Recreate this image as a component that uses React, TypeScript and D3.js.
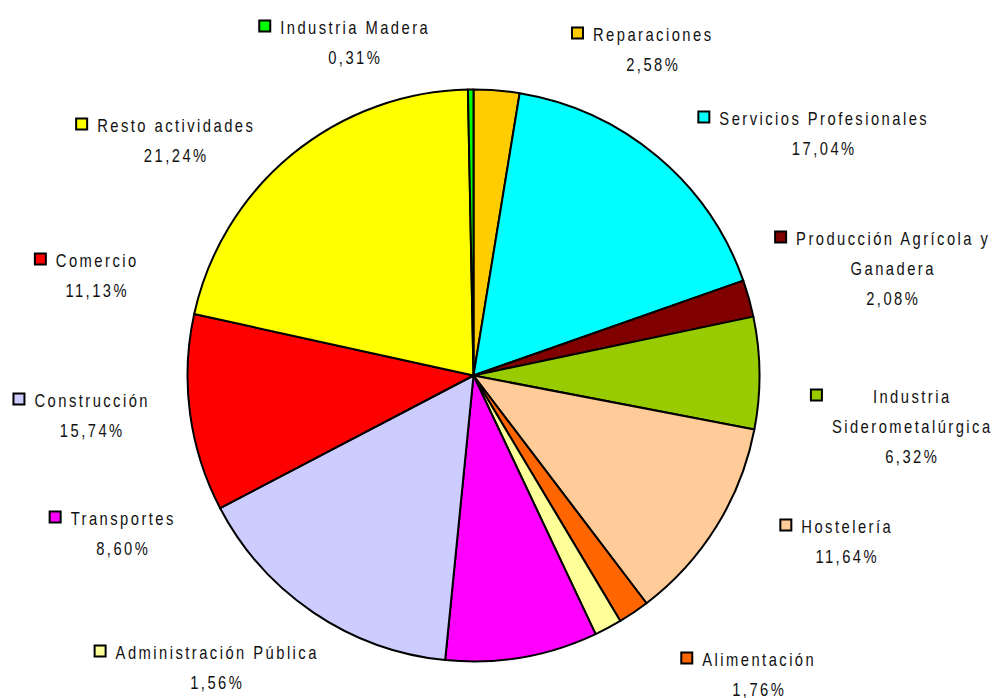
import React, { useEffect, useRef } from 'react';
import * as d3 from 'd3';

// sectors, clockwise from 12 o'clock
const categories = [
  'Reparaciones',
  'Servicios Profesionales',
  'Producción Agrícola y Ganadera',
  'Industria Siderometalúrgica',
  'Hostelería',
  'Alimentación',
  'Administración Pública',
  'Transportes',
  'Construcción',
  'Comercio',
  'Resto actividades',
  'Industria Madera',
];
const shares = [2.58, 17.04, 2.08, 6.32, 11.64, 1.76, 1.56, 8.6, 15.74, 11.13, 21.24, 0.31];
const colors = [
  '#FFCC00', '#00FFFF', '#800000', '#99CC00', '#FFCC99', '#FF6600',
  '#FFFF99', '#FF00FF', '#CCCCFF', '#FF0000', '#FFFF00', '#00FF00',
];
// how each label's text is broken into lines (the share is appended)
const labelLines = [
  ['Reparaciones'],
  ['Servicios Profesionales'],
  ['Producción Agrícola y', 'Ganadera'],
  ['Industria', 'Siderometalúrgica'],
  ['Hostelería'],
  ['Alimentación'],
  ['Administración Pública'],
  ['Transportes'],
  ['Construcción'],
  ['Comercio'],
  ['Resto actividades'],
  ['Industria Madera'],
];

// label layout: centre of the text column and baseline of the first line
const labelAnchors: [number, number][] = [
  [652, 41], [823, 125], [892, 245], [911, 403], [846, 533], [758, 666],
  [216, 659], [122, 525], [91, 407], [96, 267], [175, 132], [354, 34],
];

const width = 994;
const height = 698;
const cx = 473.5;
const cy = 375.5;
const radius = 286;
const lineHeight = 30;
const font = '"Liberation Sans Narrow", "Arial Narrow", "Liberation Sans", Arial, sans-serif';
const squeeze = 0.82; // condensed look of the original face
const spacing = 3;

const fmt = (v: number) => v.toFixed(2).replace('.', ',') + '%';

export default function App() {
  const svgRef = useRef<SVGSVGElement>(null);

  useEffect(() => {
    if (!svgRef.current) return;
    const svg = d3.select(svgRef.current);
    svg.selectAll('*').remove();

    const data = categories.map((c, i) => ({ name: c, value: shares[i], color: colors[i], i }));

    const pie = d3.pie<typeof data[0]>().value(d => d.value).sort(null);
    const arc = d3.arc<d3.PieArcDatum<typeof data[0]>>().innerRadius(0).outerRadius(radius);

    svg.append('g')
      .attr('transform', `translate(${cx},${cy})`)
      .selectAll('path')
      .data(pie(data))
      .join('path')
      .attr('d', arc)
      .attr('fill', d => d.data.color)
      .attr('stroke', '#000')
      .attr('stroke-width', 2)
      .attr('stroke-linejoin', 'round');

    // labels
    data.forEach((d, i) => {
      const [tx, ty] = labelAnchors[i];
      const lines = [...labelLines[i], fmt(d.value)];
      const g = svg.append('g');
      let maxW = 0;
      lines.forEach((ln, k) => {
        const t = g.append('text')
          .attr('transform', `translate(${tx + (spacing * squeeze) / 2},${ty + k * lineHeight}) scale(${squeeze},1)`)
          .attr('text-anchor', 'middle')
          .attr('font-family', font)
          .attr('font-size', 18)
          .attr('letter-spacing', `${spacing}px`)
          .attr('fill', '#111')
          .text(ln);
        const w = ((t.node() as SVGTextElement).getComputedTextLength() - spacing) * squeeze;
        maxW = Math.max(maxW, w);
      });
      g.append('rect')
        .attr('x', tx - maxW / 2 - 21)
        .attr('y', ty - 13.5)
        .attr('width', 11)
        .attr('height', 11)
        .attr('fill', d.color)
        .attr('stroke', '#000')
        .attr('stroke-width', 2);
    });
  }, []);

  return (
    <svg
      ref={svgRef}
      width={width}
      height={height}
      style={{ position: 'absolute', left: 0, top: 0, background: '#fff' }}
    />
  );
}
